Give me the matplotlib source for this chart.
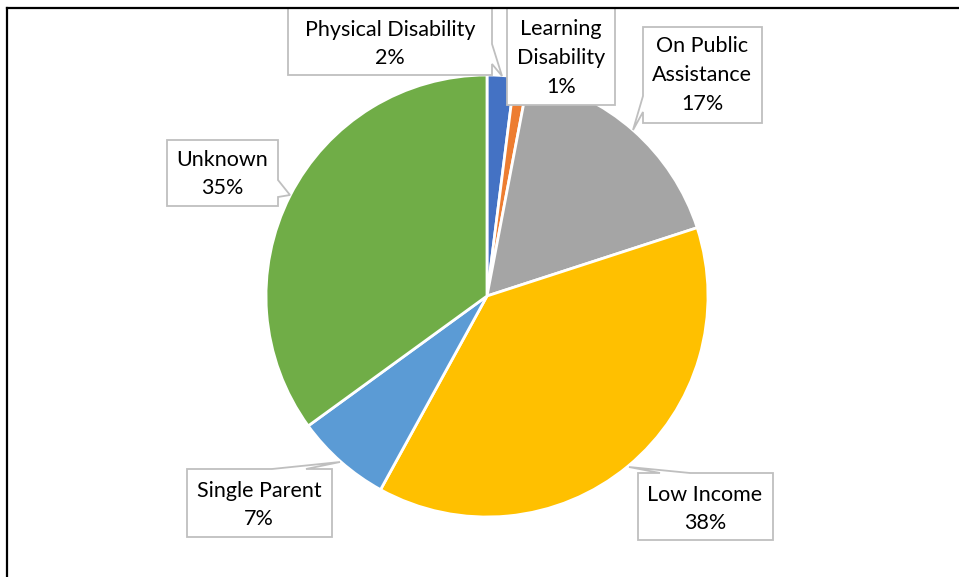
import matplotlib
matplotlib.use("Agg")
import matplotlib.pyplot as plt
from matplotlib.patches import Polygon
from matplotlib.lines import Line2D

plt.rcParams['font.family'] = ['Lato', 'DejaVu Sans']

# data
categories = ["Physical Disability", "Learning\nDisability", "On Public\nAssistance",
              "Low Income", "Single Parent", "Unknown"]
percents = [2, 1, 17, 38, 7, 35]
colors = ['#4472C4', '#ED7D31', '#A5A5A5', '#FFC000', '#5B9BD5', '#70AD47']

# callout boxes in pixel units: (x0, y0, x1, y1, text centre x, text centre y,
# wedge side, wedge base, wedge tip)
callouts = [
    (288, 8, 492, 75, 390, 44, 'right', (44, 64), (502, 76)),
    (507, 8, 615, 105, 561, 58, None, None, None),
    (643, 27, 762, 123, 702, 75, 'left', (96, 112), (633, 130)),
    (638, 473, 773, 540, 705, 509, 'top', (660, 690), (629, 467)),
    (187, 469, 332, 537, 259, 505, 'top', (272, 306), (340, 462)),
    (167, 140, 278, 206, 222, 174, 'right', (180, 197), (290, 195)),
]

W, H = 959, 577
fig = plt.figure(figsize=(W / 100, H / 100), dpi=100)
ax = fig.add_axes([0, 0, 1, 1])
ax.set_xlim(0, W)
ax.set_ylim(H, 0)
ax.set_aspect('equal')
ax.axis('off')

# y axis runs downward, so counterclock here reads clockwise on screen
ax.pie(percents, colors=colors, startangle=-90, counterclock=True,
       center=(487, 296), radius=221,
       wedgeprops=dict(edgecolor='white', linewidth=2))
ax.set_xlim(0, W)
ax.set_ylim(H, 0)


def callout_shape(x0, y0, x1, y1, side, base, tip):
    pts = [(x0, y0)]
    if side == 'top':
        pts += [(base[0], y0), tip, (base[1], y0)]
    pts.append((x1, y0))
    if side == 'right':
        pts += [(x1, base[0]), tip, (x1, base[1])]
    pts.append((x1, y1))
    pts.append((x0, y1))
    if side == 'left':
        pts += [(x0, base[1]), tip, (x0, base[0])]
    return pts


for (x0, y0, x1, y1, tx, ty, side, base, tip), name, pct in zip(callouts, categories, percents):
    shape = Polygon(callout_shape(x0, y0, x1, y1, side, base, tip), closed=True,
                    facecolor='white', edgecolor='#BFBFBF', linewidth=1.3, zorder=5)
    ax.add_patch(shape)
    ax.text(tx, ty, f"{name}\n{pct}%", ha='center', va='center', fontsize=15.5,
            color='#000000', linespacing=1.55, zorder=6)

# outer frame (left and top edges)
fig.add_artist(Line2D([7 / W, 7 / W], [0, 1 - 8 / H], color='black', linewidth=1.6,
                      transform=fig.transFigure, zorder=10))
fig.add_artist(Line2D([7 / W, 1], [1 - 8 / H, 1 - 8 / H], color='black', linewidth=1.6,
                      transform=fig.transFigure, zorder=10))

fig.savefig('out.png', dpi=100)
